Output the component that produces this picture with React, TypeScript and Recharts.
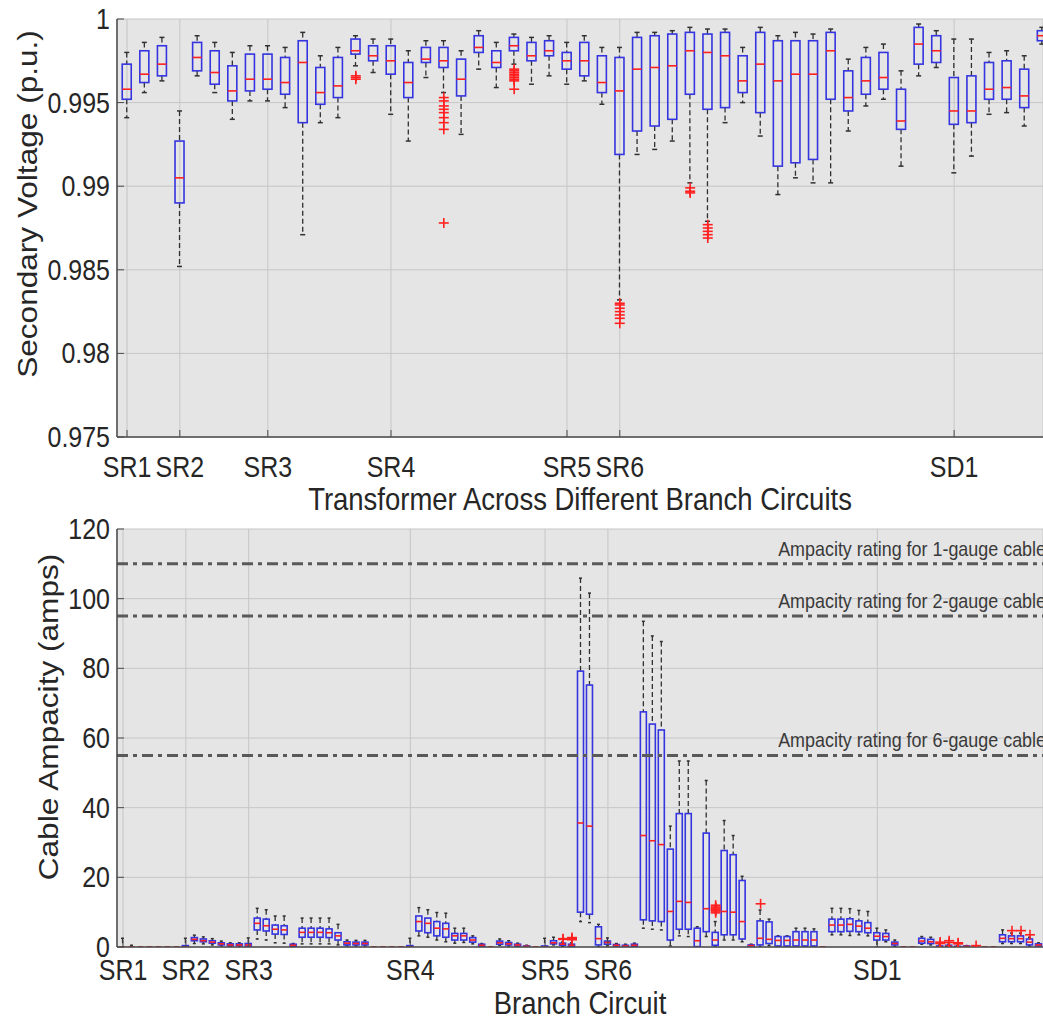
import { ComposedChart, Bar, Scatter, XAxis, YAxis, CartesianGrid, ReferenceLine } from 'recharts'

const FONT = '"Liberation Sans", Arial, sans-serif'
const INK = '#262626'
const AXIS = '#4a4a4a'
const BOX_BLUE = '#3434e0'
const MED_RED = '#ff2020'
const WHISK = '#303030'
const BG = '#e5e5e5'
const GRID = '#c6c6c6'
// the figure's text is a little narrower than it is tall
const SQ = 0.87

// labelled circuits on both x axes
const tickNames = ['SR1', 'SR2', 'SR3', 'SR4', 'SR5', 'SR6', 'SD1']
const voltTickPos = [1, 4, 9, 16, 26, 29, 48]
const ampTickPos = [1, 8, 15, 33, 48, 55, 85]

const voltTicks = [0.975, 0.98, 0.985, 0.99, 0.995, 1]
const ampTicks = [0, 20, 40, 60, 80, 100, 120]

// secondary voltage per transformer (p.u.): whisker low, q1, median, q3, whisker high
const voltLow = [
  0.9941, 0.9956, 0.9963, 0.9852, 0.9966, 0.9956, 0.994, 0.9951, 0.9951, 0.9947,
  0.9871, 0.9938, 0.9941, 0.9972, 0.9968, 0.9943, 0.9927, 0.9965, 0.9956, 0.9931,
  0.997, 0.9959, 0.9973, 0.9961, 0.9966, 0.9961, 0.9963, 0.9949, 0.9832, 0.9919,
  0.9922, 0.9927, 0.9902, 0.9879, 0.9938, 0.995, 0.993, 0.9895, 0.9905, 0.9902,
  0.9902, 0.9933, 0.9948, 0.9952, 0.9912, 0.9966, 0.9971, 0.9908, 0.9918, 0.9943,
  0.9944, 0.9936, 0.9985,
]
const voltQ1 = [
  0.9952, 0.9962, 0.9966, 0.989, 0.9969, 0.9961, 0.9951, 0.9957, 0.9958, 0.9955,
  0.9938, 0.9949, 0.9953, 0.9979, 0.9975, 0.9967, 0.9953, 0.9974, 0.9971, 0.9954,
  0.998, 0.9971, 0.9981, 0.9975, 0.9978, 0.997, 0.9966, 0.9956, 0.9919, 0.9933,
  0.9936, 0.994, 0.9955, 0.9946, 0.9947, 0.9956, 0.9944, 0.9912, 0.9914, 0.9916,
  0.9952, 0.9945, 0.9955, 0.9958, 0.9934, 0.9973, 0.9974, 0.9937, 0.9938, 0.9952,
  0.9952, 0.9947, 0.9987,
]
const voltMed = [
  0.9958, 0.9967, 0.9973, 0.9905, 0.9977, 0.9968, 0.9957, 0.9964, 0.9964, 0.9962,
  0.9974, 0.9956, 0.996, 0.9981, 0.9978, 0.9975, 0.9962, 0.9976, 0.9975, 0.9964,
  0.9983, 0.9974, 0.9984, 0.9978, 0.9981, 0.9975, 0.9975, 0.9962, 0.9957, 0.997,
  0.9971, 0.9972, 0.9981, 0.998, 0.9978, 0.9963, 0.9973, 0.9963, 0.9967, 0.9967,
  0.9981, 0.9953, 0.9963, 0.9965, 0.9939, 0.9985, 0.9981, 0.9945, 0.9945, 0.9958,
  0.9959, 0.9954, 0.999,
]
const voltQ3 = [
  0.9973, 0.9981, 0.9984, 0.9927, 0.9986, 0.9981, 0.9972, 0.9979, 0.9979, 0.9977,
  0.9987, 0.9971, 0.9977, 0.9988, 0.9984, 0.9984, 0.9974, 0.9983, 0.9983, 0.9976,
  0.999, 0.9981, 0.9989, 0.9986, 0.9987, 0.998, 0.9986, 0.9978, 0.9977, 0.9989,
  0.999, 0.9991, 0.9992, 0.9991, 0.9992, 0.9978, 0.9992, 0.9987, 0.9987, 0.9987,
  0.9992, 0.9969, 0.9977, 0.998, 0.9958, 0.9995, 0.999, 0.9965, 0.9966, 0.9974,
  0.9975, 0.997, 0.9993,
]
const voltHigh = [
  0.998, 0.9986, 0.9989, 0.9945, 0.999, 0.9986, 0.998, 0.9984, 0.9984, 0.9983,
  0.9992, 0.9978, 0.9983, 0.999, 0.9988, 0.9988, 0.9981, 0.9987, 0.9987, 0.9981,
  0.9993, 0.9986, 0.9991, 0.9989, 0.999, 0.9986, 0.999, 0.9983, 0.9983, 0.9992,
  0.9992, 0.9993, 0.9995, 0.9994, 0.9994, 0.9983, 0.9995, 0.999, 0.9992, 0.9991,
  0.9994, 0.9976, 0.9983, 0.9985, 0.9969, 0.9997, 0.9993, 0.9988, 0.9988, 0.998,
  0.9981, 0.9978, 0.9995,
]
const voltOutliers: [number, number[]][] = [
  [14, [0.9964, 0.9965, 0.9966]],
  [19, [0.9953, 0.9951, 0.9948, 0.9946, 0.9944, 0.9941, 0.9938, 0.9934, 0.9878]],
  [23, [0.997, 0.9969, 0.9968, 0.9967, 0.9966, 0.9965, 0.9964, 0.9963, 0.9958]],
  [29, [0.983, 0.9829, 0.9827, 0.9825, 0.9823, 0.9821, 0.9818]],
  [33, [0.9899, 0.9897, 0.9896]],
  [34, [0.9877, 0.9875, 0.9873, 0.9871, 0.9869]],
]

// cable current per branch circuit (amps)
const ampLow = [
  0, 0, 0, 0, 0, 0, 0, 0, 1.0, 0.9,
  0.6, 0.3, 0.2, 0.2, 0, 2.3, 2.0, 1.2, 1.1, 0,
  0.9, 0.9, 0.9, 0.9, 0.6, 0.3, 0.3, 0.3, 0, 0,
  0, 0, 0, 3.2, 2.8, 2.0, 1.5, 1.1, 1.3, 0.9,
  0, 0, 0.5, 0.3, 0.1, 0, 0, 0, 0.6, 0.2,
  0, 7.3, 7.0, 0, 0.3, 0, 0, 0, 5.4, 5.1,
  4.9, 0.3, 3.2, 3.0, 0, 3.0, 0, 2.0, 2.0, 1.5,
  0, 0, 0.4, 0, 0, 0, 0, 0, 0, 3.5,
  3.5, 3.3, 3.5, 3.2, 0, 1.5, 0.2, 0, 0, 0.8,
  0.6, 0, 0, 0, 0, 0, 0, 0, 1.0, 1.0,
  1.0, 0.3, 0,
]
const ampQ1 = [
  0, 0, 0, 0, 0, 0, 0, 0, 1.8, 1.5,
  1.1, 0.6, 0.4, 0.4, 0.3, 4.9, 4.6, 3.7, 3.6, 0.2,
  2.8, 2.8, 2.8, 2.7, 2.0, 0.6, 0.6, 0.6, 0, 0,
  0, 0, 0, 4.6, 4.1, 3.2, 2.8, 2.0, 2.0, 1.4,
  0.2, 0, 0.8, 0.6, 0.3, 0.1, 0, 0, 0.9, 0.5,
  0.2, 10.0, 9.4, 0.6, 0.8, 0.3, 0.1, 0.2, 7.8, 7.5,
  7.3, 2.0, 5.1, 5.1, 0.1, 4.4, 0.5, 3.5, 3.5, 2.3,
  0.2, 0.6, 1.0, 0.3, 0.3, 0.3, 0.3, 0.3, 0, 4.4,
  4.4, 4.5, 4.4, 4.1, 2.0, 2.0, 0.6, 0, 0, 1.1,
  1.0, 0, 0.1, 0, 0.1, 0, 0, 0, 1.5, 1.5,
  1.5, 0.6, 0.3,
]
const ampMed = [
  0, 0, 0, 0, 0, 0, 0, 0, 2.2, 1.8,
  1.4, 0.9, 0.6, 0.6, 0.6, 6.8, 6.1, 5.1, 4.9, 0.5,
  4.2, 4.2, 4.2, 4.1, 3.2, 1.1, 1.0, 1.0, 0, 0,
  0, 0, 0, 7.3, 6.8, 5.4, 5.2, 3.2, 3.2, 2.0,
  0.5, 0, 1.2, 0.9, 0.6, 0.2, 0, 0, 1.2, 0.8,
  0.5, 35.6, 34.7, 2.4, 1.3, 0.5, 0.3, 0.5, 32.0, 30.5,
  29.4, 10.2, 13.1, 12.8, 1.8, 11.0, 2.0, 10.2, 10.0, 7.3,
  0.4, 2.5, 2.2, 1.9, 1.9, 2.0, 2.0, 2.0, 0, 6.3,
  6.3, 6.5, 6.0, 5.4, 3.1, 3.0, 1.0, 0, 0, 1.7,
  1.5, 0.1, 0.3, 0.1, 0.2, 0, 0, 0, 2.5, 2.4,
  2.4, 1.4, 0.6,
]
const ampQ3 = [
  0, 0, 0, 0, 0, 0, 0, 0.4, 2.7, 2.3,
  1.8, 1.2, 0.9, 0.9, 1.0, 8.3, 8.0, 6.3, 6.1, 0.8,
  5.4, 5.4, 5.4, 5.2, 4.1, 1.5, 1.4, 1.4, 0, 0,
  0, 0, 0.4, 8.9, 8.3, 7.3, 6.8, 3.9, 3.9, 2.7,
  0.8, 0, 1.7, 1.3, 0.8, 0.3, 0, 0.3, 1.8, 1.1,
  0.8, 79.2, 75.2, 5.8, 1.7, 0.7, 0.5, 0.8, 67.5, 64.0,
  62.3, 28.1, 38.3, 38.3, 5.4, 32.7, 4.2, 27.7, 26.5, 19.1,
  0.6, 7.5, 7.2, 3.0, 3.0, 4.4, 4.4, 4.4, 0, 8.0,
  8.0, 8.1, 7.5, 7.0, 4.1, 3.9, 1.4, 0, 0, 2.5,
  2.2, 0.3, 0.5, 0.2, 0.3, 0, 0, 0, 3.5, 3.2,
  3.2, 2.3, 0.9,
]
const ampHigh = [
  2.5, 0.5, 0, 0, 0, 0, 0, 2.5, 3.4, 2.9,
  2.4, 1.7, 1.2, 1.2, 2.6, 11.1, 10.7, 8.9, 8.9, 1.0,
  8.3, 8.3, 8.3, 8.3, 6.5, 2.0, 1.9, 1.9, 0, 0,
  0, 0, 2.5, 11.3, 10.7, 9.9, 9.7, 5.4, 5.4, 3.2,
  1.0, 0, 2.3, 1.8, 1.1, 0.5, 0, 2.5, 2.8, 1.4,
  1.2, 105.9, 101.6, 6.5, 2.6, 1.0, 0.8, 1.1, 93.5, 89.3,
  87.7, 34.7, 53.4, 53.4, 5.8, 47.8, 7.3, 36.3, 32.0, 20.3,
  0.8, 10.6, 8.0, 3.2, 3.2, 5.4, 5.4, 5.2, 0, 11.1,
  11.1, 11.0, 10.5, 10.2, 5.4, 4.9, 2.0, 0, 0, 3.0,
  2.8, 0.6, 0.8, 0.4, 0.4, 0, 0, 0, 4.9, 4.0,
  4.0, 2.8, 1.2,
]
const ampOutliers: [number, number[]][] = [
  [50, [2.2, 2.4]],
  [51, [2.1, 2.4, 2.7]],
  [67, [9.8, 10.3, 10.6, 10.9, 11.2, 11.5, 12.0]],
  [72, [12.4]],
  [92, [1.0, 1.4]],
  [93, [1.3, 1.8]],
  [94, [0.9, 1.2]],
  [96, [0.4]],
  [100, [4.7]],
  [101, [4.7]],
  [102, [3.5]],
]

const ratingValues = [110, 95, 55]
const ratingNames = ['1-gauge', '2-gauge', '6-gauge']

type BoxRow = { pos: number; range: [number, number]; lo: number; q1: number; med: number; q3: number; hi: number }

function buildRows(lo: number[], q1: number[], med: number[], q3: number[], hi: number[]): BoxRow[] {
  return lo.map((v, i) => ({ pos: i + 1, range: [v, hi[i]], lo: v, q1: q1[i], med: med[i], q3: q3[i], hi: hi[i] }))
}

function buildOutliers(list: [number, number[]][]) {
  const out: { pos: number; val: number }[] = []
  list.forEach(([pos, vals]) => vals.forEach((val) => out.push({ pos, val })))
  return out
}

const voltRows = buildRows(voltLow, voltQ1, voltMed, voltQ3, voltHigh)
const ampRows = buildRows(ampLow, ampQ1, ampMed, ampQ3, ampHigh)
const voltOut = buildOutliers(voltOutliers)
const ampOut = buildOutliers(ampOutliers)

// box drawn inside the whisker-to-whisker range bar
function makeBoxShape(capW: number) {
  return function BoxShape(props: any) {
    const { x, y, width, height, payload } = props
    if (payload == null || x == null || y == null) return <g />
    const top = Math.min(y, y + height)
    const bottom = Math.max(y, y + height)
    const span = payload.hi - payload.lo
    const py = (v: number) => (span > 0 ? bottom - ((bottom - top) * (v - payload.lo)) / span : bottom)
    const cx = x + width / 2
    const yq1 = py(payload.q1)
    const yq3 = py(payload.q3)
    const ym = py(payload.med)
    return (
      <g>
        {top < yq3 && <line x1={cx} x2={cx} y1={top} y2={yq3} stroke={WHISK} strokeWidth={1.3} strokeDasharray="5 3" />}
        {yq1 < bottom && <line x1={cx} x2={cx} y1={yq1} y2={bottom} stroke={WHISK} strokeWidth={1.3} strokeDasharray="5 3" />}
        <line x1={cx - capW / 2} x2={cx + capW / 2} y1={top} y2={top} stroke={WHISK} strokeWidth={1.5} />
        <line x1={cx - capW / 2} x2={cx + capW / 2} y1={bottom} y2={bottom} stroke={WHISK} strokeWidth={1.5} />
        <rect x={x} y={yq3} width={width} height={Math.max(yq1 - yq3, 0)} fill="none" stroke={BOX_BLUE} strokeWidth={1.6} />
        <line x1={x} x2={x + width} y1={ym} y2={ym} stroke={MED_RED} strokeWidth={1.6} />
      </g>
    )
  }
}

function makePlus(size: number) {
  return function Plus(props: any) {
    const { cx, cy } = props
    if (cx == null || cy == null) return <g />
    const h = size / 2
    return (
      <g stroke={MED_RED} strokeWidth={1.6}>
        <line x1={cx - h} x2={cx + h} y1={cy} y2={cy} />
        <line x1={cx} x2={cx} y1={cy - h} y2={cy + h} />
      </g>
    )
  }
}

function SqText(props: any) {
  const { x, y, anchor, size, dy, fill, children } = props
  return (
    <text transform={`translate(${x},${y}) scale(${SQ},1)`} textAnchor={anchor} dy={dy} fontSize={size} fontFamily={FONT} fill={fill ?? INK}>
      {children}
    </text>
  )
}

function XTick(props: any) {
  const { x, y, payload, names } = props
  return <SqText x={x} y={y} anchor="middle" size={28.7} dy="0.71em">{names(payload.value)}</SqText>
}

function YTick(props: any) {
  const { x, y, payload, fmt } = props
  return <SqText x={x} y={y} anchor="end" size={28.7} dy="0.35em">{fmt(payload.value)}</SqText>
}

function XTitle(props: any) {
  const { viewBox, value, drop } = props
  return <SqText x={viewBox.x + viewBox.width / 2} y={viewBox.y + drop} anchor="middle" size={31.6}>{value}</SqText>
}

function YTitle(props: any) {
  const { viewBox, value, baseX, shift } = props
  const cy = viewBox.y + viewBox.height / 2 + shift
  return (
    <text transform={`translate(${baseX},${cy}) rotate(-90) scale(1,${SQ})`} textAnchor="middle" fill={INK} fontSize={31.6} fontFamily={FONT}>
      {value}
    </text>
  )
}

function RatingLabel(props: any) {
  const { viewBox, value } = props
  return <SqText x={viewBox.x + viewBox.width * 0.714} y={viewBox.y - 8} anchor="start" size={20.6} fill="#3a3a3a">{value}</SqText>
}

const nameOf = (positions: number[]) => (v: number) => tickNames[positions.indexOf(v)] ?? ''
const voltFmt = (v: number) => String(Number(v.toFixed(3)))
const ampFmt = (v: number) => String(v)
const axisLine = { stroke: AXIS, strokeWidth: 1.5 }

function VoltageChart() {
  return (
    <ComposedChart width={1043} height={515} data={voltRows} margin={{ top: 19, right: 0, bottom: 0, left: 0 }}>
      <CartesianGrid fill={BG} stroke={GRID} />
      <XAxis xAxisId="top" orientation="top" type="number" dataKey="pos" domain={[0.43, 53.05]} allowDataOverflow ticks={voltTickPos} tick={false} height={0} tickSize={-7} axisLine={axisLine} tickLine={{ stroke: AXIS }} />
      <XAxis
        type="number"
        dataKey="pos"
        domain={[0.43, 53.05]}
        allowDataOverflow
        ticks={voltTickPos}
        interval={0}
        height={78}
        tickSize={-7}
        tickMargin={27}
        tick={<XTick names={nameOf(voltTickPos)} />}
        axisLine={axisLine}
        tickLine={{ stroke: AXIS }}
        label={<XTitle value="Transformer Across Different Branch Circuits" drop={73} />}
      />
      <YAxis
        type="number"
        domain={[0.975, 1]}
        allowDataOverflow
        ticks={voltTicks}
        width={117}
        tickSize={-7}
        tickMargin={14}
        tick={<YTick fmt={voltFmt} />}
        axisLine={axisLine}
        tickLine={{ stroke: AXIS }}
        label={<YTitle value="Secondary Voltage (p.u.)" baseX={37} shift={-24} />}
      />
      <Bar dataKey="range" barSize={9} shape={makeBoxShape(5)} isAnimationActive={false} />
      <Scatter data={voltOut} dataKey="val" shape={makePlus(10)} isAnimationActive={false} />
    </ComposedChart>
  )
}

function AmpacityChart() {
  return (
    <ComposedChart width={1043} height={506} data={ampRows} margin={{ top: 14, right: 0, bottom: 0, left: 0 }}>
      <CartesianGrid fill={BG} stroke={GRID} />
      <XAxis xAxisId="top" orientation="top" type="number" dataKey="pos" domain={[0.33, 103.45]} allowDataOverflow ticks={ampTickPos} tick={false} height={0} tickSize={-7} axisLine={axisLine} tickLine={{ stroke: AXIS }} />
      <XAxis
        type="number"
        dataKey="pos"
        domain={[0.33, 103.45]}
        allowDataOverflow
        ticks={ampTickPos}
        interval={0}
        height={74}
        tickSize={-7}
        tickMargin={20}
        tick={<XTick names={nameOf(ampTickPos)} />}
        axisLine={axisLine}
        tickLine={{ stroke: AXIS }}
        label={<XTitle value="Branch Circuit" drop={67} />}
      />
      <YAxis
        type="number"
        domain={[0, 120]}
        allowDataOverflow
        ticks={ampTicks}
        width={117}
        tickSize={-7}
        tickMargin={14}
        tick={<YTick fmt={ampFmt} />}
        axisLine={axisLine}
        tickLine={{ stroke: AXIS }}
        label={<YTitle value="Cable Ampacity (amps)" baseX={58} shift={-21} />}
      />
      <Bar dataKey="range" barSize={6} shape={makeBoxShape(3)} isAnimationActive={false} />
      <Scatter data={ampOut} dataKey="val" shape={makePlus(10)} isAnimationActive={false} />
      {ratingValues.map((v, i) => (
        <ReferenceLine
          key={v}
          y={v}
          stroke="#595959"
          strokeWidth={3}
          strokeDasharray="11 5 4 5"
          label={<RatingLabel value={`Ampacity rating for ${ratingNames[i]} cable`} />}
        />
      ))}
    </ComposedChart>
  )
}

export default function App() {
  return (
    <div style={{ position: 'absolute', left: 0, top: 0, width: 1043, height: 1021, background: '#fff' }}>
      <VoltageChart />
      <AmpacityChart />
    </div>
  )
}
